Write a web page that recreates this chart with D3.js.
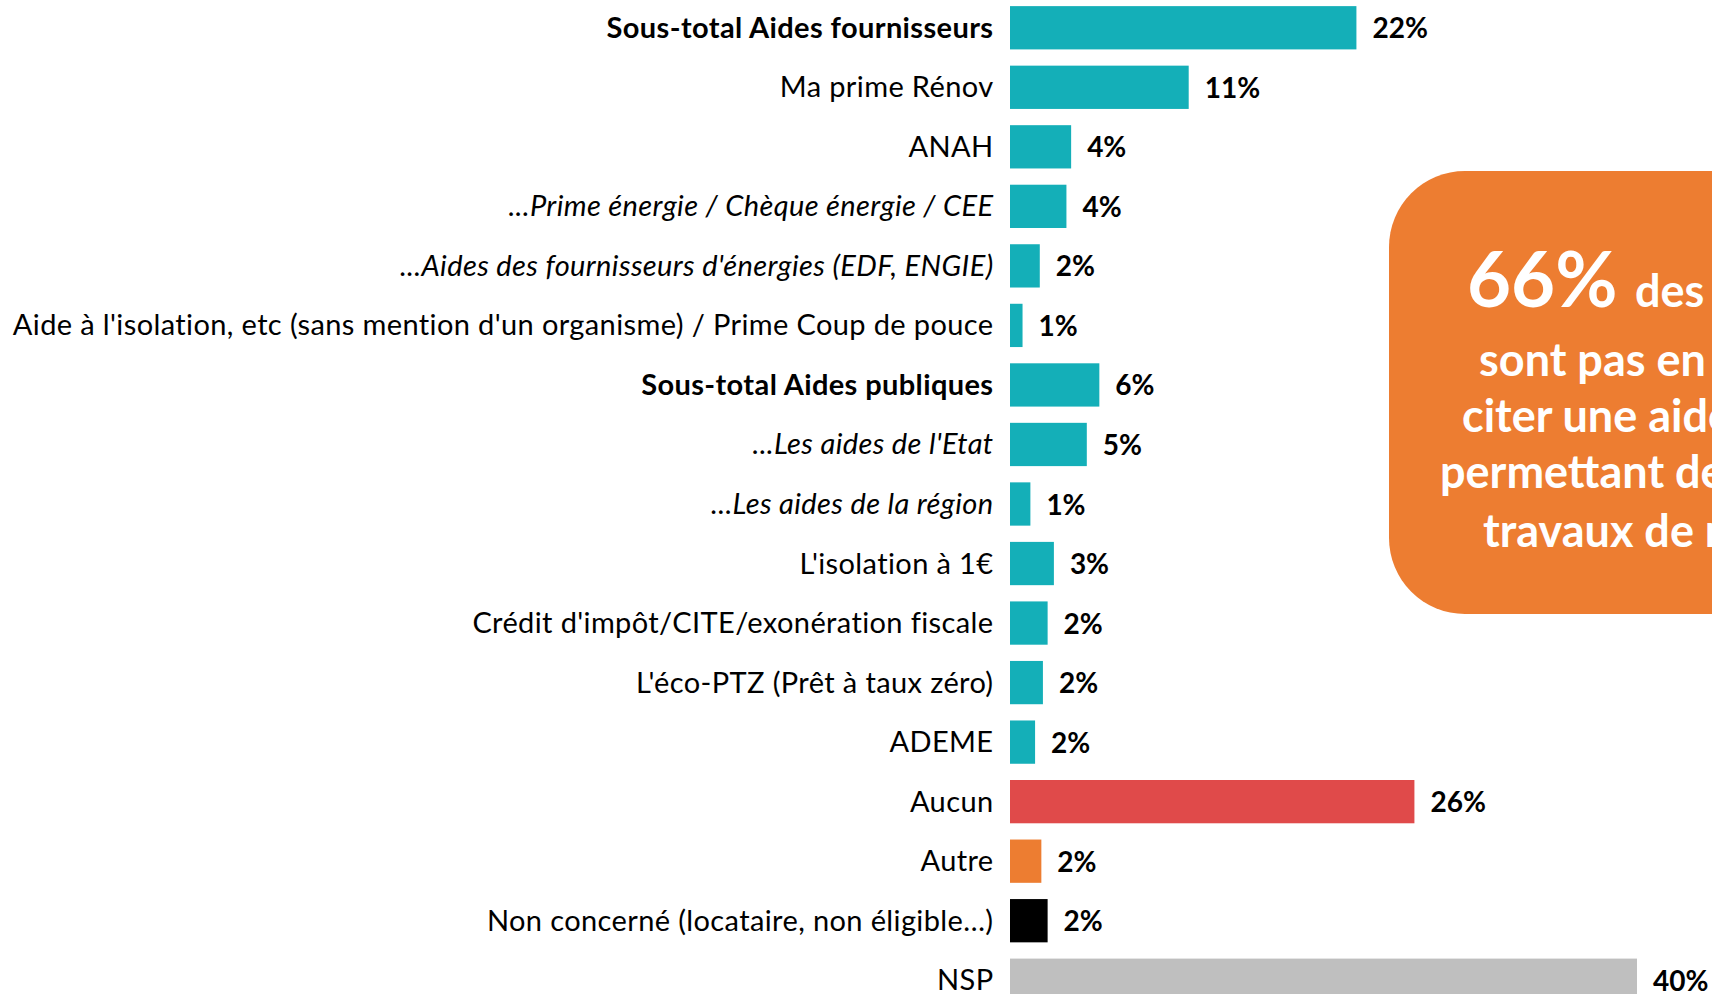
<!DOCTYPE html>
<html>
<head>
<meta charset="utf-8">
<script src="https://cdn.jsdelivr.net/npm/d3@7"></script>
<style>
    body { margin: 0; background: #fff; }
    svg { display: block; }
    text { font-family: Lato, "Open Sans", sans-serif; }
</style>
</head>
<body>
<script>
// dimensions
const width = 1712;
const height = 994;

// categories, top to bottom
const categories = [
    "Sous-total Aides fournisseurs",
    "Ma prime Rénov",
    "ANAH",
    "...Prime énergie / Chèque énergie / CEE",
    "...Aides des fournisseurs d'énergies (EDF, ENGIE)",
    "Aide à l'isolation, etc (sans mention d'un organisme) / Prime Coup de pouce",
    "Sous-total Aides publiques",
    "...Les aides de l'Etat",
    "...Les aides de la région",
    "L'isolation à 1€",
    "Crédit d'impôt/CITE/exonération fiscale",
    "L'éco-PTZ (Prêt à taux zéro)",
    "ADEME",
    "Aucun",
    "Autre",
    "Non concerné (locataire, non éligible…)",
    "NSP"
];

// share of respondents, in %
const values = [22.1, 11.4, 3.9, 3.6, 1.9, 0.8, 5.7, 4.9, 1.3, 2.8, 2.4, 2.1, 1.6, 25.8, 2.0, 2.4, 40.0];

// row kind: subtotal, plain item or detail of a subtotal
const rowKinds = ["total", "item", "item", "detail", "detail", "item", "total", "detail", "detail",
    "item", "item", "item", "item", "item", "item", "item", "item"];

// answer group, drives the bar colour
const groups = ["aide", "aide", "aide", "aide", "aide", "aide", "aide", "aide", "aide",
    "aide", "aide", "aide", "aide", "aucun", "autre", "nc", "nsp"];

// call-out box text
const calloutBig = "66%";
const calloutLines = ["des", "sont pas en", "citer une aide", "permettant de", "travaux de rénovation"];

const colors = {
    aide: "#14afb8",
    aucun: "#e04a4a",
    autre: "#ed7d31",
    nc: "#000000",
    nsp: "#bfbfbf"
};

const rows = categories.map(function(c, i) {
    return { name: c, value: values[i], kind: rowKinds[i], group: groups[i] };
});

let svg = d3.select("body")
    .append("svg")
    .attr("width", width)
    .attr("height", height);

let x = d3.scaleLinear()
    .domain([0, 40])
    .range([1010, 1637]);

let y = d3.scaleBand()
    .domain(categories)
    .range([-2, 1010])
    .paddingInner(0.273)
    .paddingOuter(0.1365);

// call-out box, runs off the right edge
let box = svg.append("g");
box.append("rect")
    .attr("x", 1389)
    .attr("y", 171)
    .attr("width", 500)
    .attr("height", 443)
    .attr("rx", 76)
    .attr("fill", "#ed7d31");

box.append("text")
    .attr("x", 1467)
    .attr("y", 307)
    .attr("fill", "#fff")
    .style("font-size", "76px")
    .style("font-weight", 700)
    .text(calloutBig);
box.append("text")
    .attr("x", 1635)
    .attr("y", 307)
    .attr("fill", "#fff")
    .style("font-size", "45px")
    .style("font-weight", 700)
    .text(calloutLines[0]);

const lineStarts = [1479, 1462, 1440, 1483];
const lineBase = [376, 432, 488, 547];
calloutLines.slice(1).forEach(function(t, i) {
    box.append("text")
        .attr("x", lineStarts[i])
        .attr("y", lineBase[i])
        .attr("fill", "#fff")
        .style("font-size", "45px")
        .style("font-weight", 700)
        .text(t);
});

// bars
svg.selectAll(".bar")
    .data(rows)
    .enter()
    .append("rect")
    .attr("class", "bar")
    .attr("x", x(0))
    .attr("y", function(d) { return y(d.name); })
    .attr("width", function(d) { return x(d.value) - x(0); })
    .attr("height", y.bandwidth())
    .attr("fill", function(d) { return colors[d.group]; });

// category labels
svg.selectAll(".label")
    .data(rows)
    .enter()
    .append("text")
    .attr("class", "label")
    .attr("x", x(0) - 16.5)
    .attr("y", function(d) { return y(d.name) + y.bandwidth() / 2 + 10; })
    .attr("text-anchor", "end")
    .style("font-size", "29px")
    .style("letter-spacing", "0.38px")
    .style("font-weight", function(d) { return d.kind === "total" ? 700 : 400; })
    .style("font-style", function(d) { return d.kind === "detail" ? "italic" : "normal"; })
    .attr("fill", "#000")
    .text(function(d) { return d.name; });

// value labels
svg.selectAll(".value")
    .data(rows)
    .enter()
    .append("text")
    .attr("class", "value")
    .attr("x", function(d) { return x(d.value) + 16; })
    .attr("y", function(d) { return y(d.name) + y.bandwidth() / 2 + 10.5; })
    .style("font-size", "28px")
    .style("font-weight", 700)
    .attr("fill", "#000")
    .text(function(d) { return Math.round(d.value) + "%"; });
</script>
</body>
</html>
